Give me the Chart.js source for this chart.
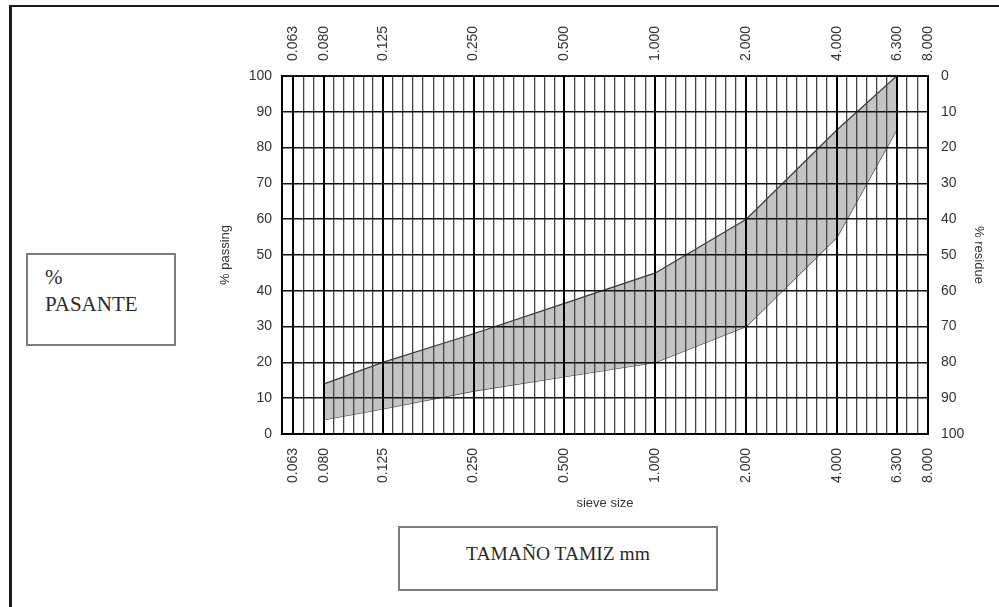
<!DOCTYPE html>
<html>
<head>
<meta charset="utf-8">
<title>Curva granulométrica</title>
<script src="https://cdn.jsdelivr.net/npm/chart.js@4.4.1/dist/chart.umd.min.js"></script>
<style>
  html, body { margin: 0; padding: 0; background: #fff; }
  #wrap { position: relative; width: 999px; height: 607px; overflow: hidden; }
  #chart { position: absolute; left: 0; top: 0; }
  .frame { position: absolute; left: 9px; top: 5px; width: 995px; height: 610px;
           border-top: 2px solid #1c1c1c; border-left: 3px solid #1c1c1c; }
  .box { position: absolute; border: 2px solid #7d7d7d; background: #fff; box-sizing: border-box;
         font-family: "Liberation Serif", "DejaVu Serif", serif; color: #2a2a2a; }
  #passBox { left: 26px; top: 253px; width: 150px; height: 93px; font-size: 21px; line-height: 27px; padding: 9px 0 0 17px; }
  #sizeBox { left: 398px; top: 526px; width: 320px; height: 65px; font-size: 19.5px; text-align: center; padding-top: 15px; }
</style>
</head>
<body>
<div id="wrap">
  <canvas id="chart" width="999" height="607"></canvas>
  <div class="frame"></div>
  <div class="box" id="passBox">%<br>PASANTE</div>
  <div class="box" id="sizeBox">TAMAÑO TAMIZ mm</div>
</div>
<script>
// Sieve openings (mm) shown on both horizontal axes
const sieveSizes = [0.063, 0.080, 0.125, 0.250, 0.500, 1.000, 2.000, 4.000, 6.300, 8.000];
// Number of equal log-subdivisions of the grid between consecutive sieves
const minorDivisions = [3, 6, 9, 9, 9, 9, 9, 6, 3];
// Grading envelope: sieve sizes and the % passing limits
const gradingSizes = [0.080, 0.125, 0.250, 0.500, 1.000, 2.000, 4.000, 6.300];
const upperLimit = [14, 20, 28, 36.5, 45, 60, 85, 100];
const lowerLimit = [4, 7, 12, 16, 20, 30, 55, 85];
// Percentage ticks (passing on the left, residue on the right)
const percentTicks = [0, 10, 20, 30, 40, 50, 60, 70, 80, 90, 100];

const X_MIN = 0.058, X_MAX = 8.0;
const tickFont = { family: "'Liberation Sans', Arial, sans-serif", size: 14 };
const titleFont = { family: "'Liberation Sans', Arial, sans-serif", size: 13 };

function sieveTicks(scale) {
  const ticks = [];
  sieveSizes.forEach((v, i) => {
    ticks.push({ value: v, sieve: true });
    if (i < minorDivisions.length) {
      const a = Math.log(v), b = Math.log(sieveSizes[i + 1]), n = minorDivisions[i];
      for (let k = 1; k < n; k++) ticks.push({ value: Math.exp(a + (b - a) * k / n), sieve: false });
    }
  });
  scale.ticks = ticks;
}
function percentTickList(scale) {
  scale.ticks = percentTicks.map(v => ({ value: v }));
}
function sieveLabel(value, index, ticks) {
  return ticks[index] && ticks[index].sieve ? Number(value).toFixed(3) : '';
}
const fixW = w => scale => { scale.width = w; };
const fixH = h => scale => { scale.height = h; };

const pts = arr => gradingSizes.map((s, i) => ({ x: s, y: arr[i] }));

new Chart(document.getElementById('chart'), {
  type: 'line',
  data: {
    datasets: [
      { label: 'upper', data: pts(upperLimit), borderColor: '#3a3a3a', borderWidth: 1.2,
        backgroundColor: '#c4c4c4', fill: '+1', pointRadius: 0, tension: 0 },
      { label: 'lower', data: pts(lowerLimit), borderColor: '#3a3a3a', borderWidth: 1.2,
        backgroundColor: '#c4c4c4', fill: false, pointRadius: 0, tension: 0 }
    ]
  },
  options: {
    responsive: false,
    devicePixelRatio: 1,
    animation: false,
    layout: { padding: { left: 214, right: 9, top: 10, bottom: 92 } },
    plugins: { legend: { display: false }, tooltip: { enabled: false } },
    scales: {
      x: {
        type: 'logarithmic', position: 'bottom', min: X_MIN, max: X_MAX,
        afterBuildTicks: sieveTicks, afterFit: fixH(81),
        ticks: { autoSkip: false, minRotation: 90, maxRotation: 90, padding: 14,
                 color: '#333', font: tickFont, callback: sieveLabel },
        grid: { z: 1, drawTicks: false,
                color: c => (c.tick && c.tick.sieve) ? '#000' : '#454545',
                lineWidth: c => (c.tick && c.tick.sieve) ? 2 : 1.3 },
        border: { display: true, color: '#000', width: 2, z: 2 },
        title: { display: true, text: 'sieve size', color: '#333', font: titleFont, padding: { top: 0, bottom: 4 } }
      },
      x2: {
        type: 'logarithmic', axis: 'x', position: 'top', min: X_MIN, max: X_MAX,
        afterBuildTicks: sieveTicks, afterFit: fixH(66),
        ticks: { autoSkip: false, minRotation: 90, maxRotation: 90, padding: 15, labelOffset: 16.8,
                 color: '#333', font: tickFont, callback: sieveLabel },
        grid: { display: false, drawTicks: false },
        border: { display: true, color: '#000', width: 2 }
      },
      y: {
        type: 'linear', position: 'left', min: 0, max: 100,
        afterBuildTicks: percentTickList, afterFit: fixW(68),
        ticks: { padding: 10, color: '#333', font: tickFont },
        grid: { z: 1, drawTicks: false, color: '#111', lineWidth: 1.5 },
        border: { display: true, color: '#000', width: 2, z: 2 },
        title: { display: true, text: '% passing', color: '#333', font: titleFont, padding: { top: 4, bottom: 0 } }
      },
      y2: {
        type: 'linear', position: 'right', min: 0, max: 100, reverse: true,
        afterBuildTicks: percentTickList, afterFit: fixW(62),
        ticks: { padding: 13, color: '#333', font: tickFont },
        grid: { display: false, drawTicks: false },
        border: { display: true, color: '#000', width: 2 },
        title: { display: true, text: '% residue', color: '#333', font: titleFont, padding: { top: 4, bottom: 0 } }
      }
    }
  }
});
</script>
</body>
</html>
